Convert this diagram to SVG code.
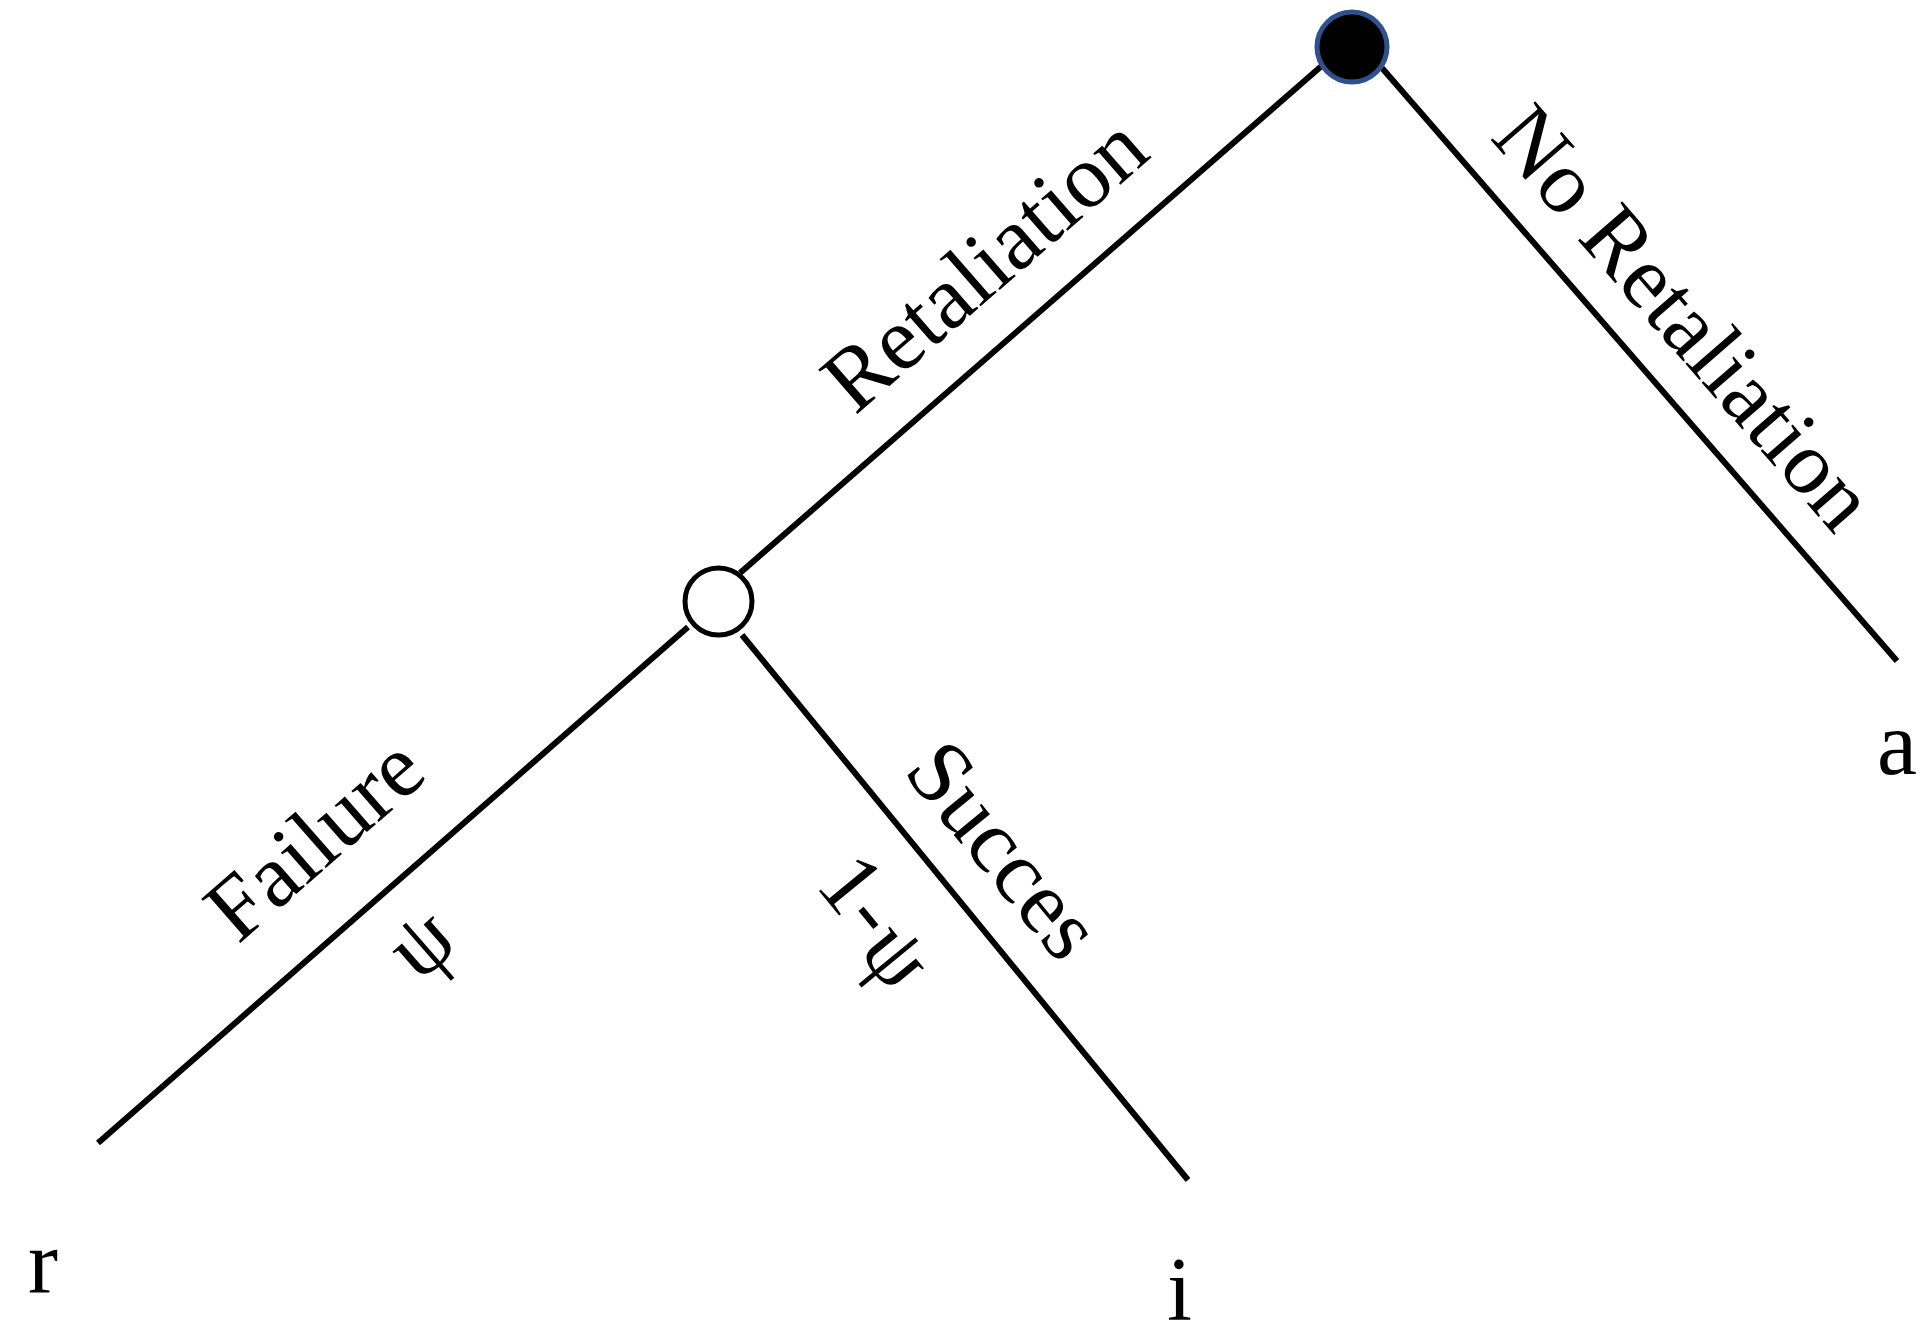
<svg xmlns="http://www.w3.org/2000/svg" width="1929" height="1338" viewBox="0 0 1929 1338">
<style>
.edge{stroke:#000;stroke-width:6;fill:none;stroke-linecap:butt}
.lbl{font-family:"Liberation Serif","Times New Roman",serif;font-size:90px;fill:#000}
</style>
<rect width="1929" height="1338" fill="#fff"/>
<g id="connectors">
<line class="edge" x1="740" y1="573" x2="1325" y2="63"/>
<line class="edge" x1="1382" y1="68" x2="1897" y2="661"/>
<line class="edge" x1="688" y1="627" x2="98" y2="1143"/>
<line class="edge" x1="742" y1="635" x2="1188" y2="1180"/>
</g>
<g id="edge-labels">
<text class="lbl" transform="translate(855,416) rotate(-41.1)">Retaliation</text>
<text class="lbl" transform="translate(1489,138) rotate(49)">No Retaliation</text>
<text class="lbl" transform="translate(238,945) rotate(-41.2)">Failure</text>
<text class="lbl" text-anchor="middle" transform="translate(440,965) rotate(-41.2)">ψ</text>
<text class="lbl" transform="translate(902,772) rotate(50.7)">Succes</text>
<text class="lbl" transform="translate(814,885) rotate(50.7)">1-<tspan x="107" dy="9" text-anchor="middle">ψ</tspan></text>
</g>
<g id="node-root">
<circle cx="1352" cy="47" r="35" fill="#000" stroke="#2F528F" stroke-width="5"/>
</g>
<g id="node-chance">
<circle cx="718.5" cy="601.5" r="33.5" fill="#fff" stroke="#000" stroke-width="5"/>
</g>
<g id="leaf-r"><text class="lbl" x="28" y="1293">r</text></g>
<g id="leaf-i"><text class="lbl" x="1167" y="1320">i</text></g>
<g id="leaf-a"><text class="lbl" x="1877" y="774">a</text></g>
</svg>
